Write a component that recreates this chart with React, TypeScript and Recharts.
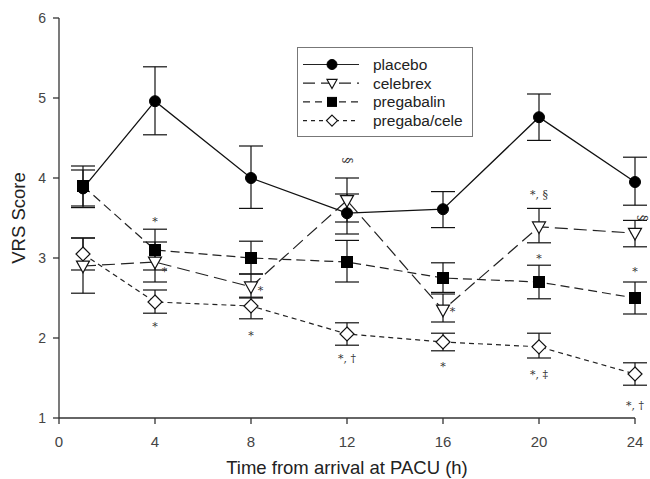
import { ComposedChart, Line, XAxis, YAxis, ErrorBar, ReferenceDot, Label } from 'recharts'

const hours = [1, 4, 8, 12, 16, 20, 24]

const placebo = [3.87, 4.96, 4.0, 3.56, 3.61, 4.76, 3.95]
const placeboLo = [3.63, 4.54, 3.62, 3.3, 3.38, 4.47, 3.66]
const placeboHi = [4.15, 5.39, 4.4, 3.8, 3.83, 5.05, 4.26]

const celebrex = [2.9, 2.95, 2.64, 3.72, 2.35, 3.39, 3.31]
const celebrexLo = [2.56, 2.7, 2.5, 3.45, 2.2, 3.19, 3.14]
const celebrexHi = [3.25, 3.2, 2.8, 4.0, 2.55, 3.62, 3.47]

const pregabalin = [3.9, 3.1, 3.0, 2.95, 2.75, 2.7, 2.5]
const pregabalinLo = [3.65, 2.85, 2.8, 2.7, 2.57, 2.49, 2.3]
const pregabalinHi = [4.1, 3.36, 3.21, 3.22, 2.94, 2.91, 2.7]

const combo = [3.05, 2.45, 2.4, 2.05, 1.95, 1.89, 1.55]
const comboLo = [2.85, 2.31, 2.24, 1.91, 1.84, 1.75, 1.41]
const comboHi = [3.25, 2.6, 2.51, 2.19, 2.06, 2.06, 1.69]

const xTicks = [0, 4, 8, 12, 16, 20, 24]
const yTicks = [1, 2, 3, 4, 5, 6]

// significance marks placed in data units
const noteX = [4, 4.4, 4, 8.4, 8, 12, 12, 16.4, 16, 20, 20, 20, 24.3, 24, 24]
const noteY = [3.46, 2.83, 2.14, 2.6, 2.03, 4.22, 1.75, 2.33, 1.65, 3.79, 3.0, 1.54, 3.5, 2.83, 1.16]
const noteText = ['*', '*', '*', '*', '*', '§', '*, †', '*', '*', '*, §', '*', '*, ‡', '§', '*', '*, †']

const FONT = '"Liberation Sans", Arial, Helvetica, sans-serif'

const rows = hours.map((h, i) => ({
  hour: h,
  placebo: placebo[i],
  placeboErr: [placebo[i] - placeboLo[i], placeboHi[i] - placebo[i]],
  celebrex: celebrex[i],
  celebrexErr: [celebrex[i] - celebrexLo[i], celebrexHi[i] - celebrex[i]],
  pregabalin: pregabalin[i],
  pregabalinErr: [pregabalin[i] - pregabalinLo[i], pregabalinHi[i] - pregabalin[i]],
  combo: combo[i],
  comboErr: [combo[i] - comboLo[i], comboHi[i] - combo[i]],
}))

type Kind = 'circle' | 'triangle' | 'square' | 'diamond'

function marker(kind: Kind, cx: number, cy: number, s: number, key?: string | number) {
  if (kind === 'circle') return <circle key={key} cx={cx} cy={cy} r={s} fill="#000" stroke="#000" />
  if (kind === 'square')
    return <rect key={key} x={cx - s} y={cy - s} width={2 * s} height={2 * s} fill="#000" stroke="#000" />
  if (kind === 'triangle')
    return (
      <polygon
        key={key}
        points={`${cx - s},${cy - s * 0.75} ${cx + s},${cy - s * 0.75} ${cx},${cy + s * 1.05}`}
        fill="#fff"
        stroke="#111"
        strokeWidth={1.2}
      />
    )
  return (
    <polygon
      key={key}
      points={`${cx},${cy - s} ${cx + s},${cy} ${cx},${cy + s} ${cx - s},${cy}`}
      fill="#fff"
      stroke="#111"
      strokeWidth={1.2}
    />
  )
}

const dotFor = (kind: Kind, s: number) => (p: any) => marker(kind, p.cx, p.cy, s, p.key ?? p.index)

const legendItems: { name: string; kind: Kind; dash?: string; size: number }[] = [
  { name: 'placebo', kind: 'circle', size: 5 },
  { name: 'celebrex', kind: 'triangle', dash: '12 6', size: 5 },
  { name: 'pregabalin', kind: 'square', dash: '7 5', size: 4.5 },
  { name: 'pregaba/cele', kind: 'diamond', dash: '4 4', size: 5.5 },
]

function LegendBox() {
  return (
    <div
      style={{
        position: 'absolute',
        left: 297,
        top: 47,
        width: 176,
        height: 90,
        border: '1px solid #777',
        boxSizing: 'border-box',
        background: '#fff',
      }}
    >
      <svg width={174} height={88}>
        {legendItems.map((it, i) => {
          const y = 16.5 + i * 18.7
          return (
            <g key={it.name}>
              <line x1={5} x2={61} y1={y} y2={y} stroke="#222" strokeWidth={1.2} strokeDasharray={it.dash} />
              {marker(it.kind, 34, y, it.size)}
              <text x={75} y={y} dominantBaseline="central" fontSize={15.5} fontFamily={FONT} fill="#222">
                {it.name}
              </text>
            </g>
          )
        })}
      </svg>
    </div>
  )
}

const errStyle = { stroke: '#111', strokeWidth: 1.2, width: 12 }

const noteLabel = (text: string) => (props: any) => {
  const vb = props.viewBox || {}
  const cx = vb.x + (vb.width || 0) / 2
  const cy = vb.y + (vb.height || 0) / 2
  const rotate = text === '§'
  return (
    <text
      x={cx}
      y={cy}
      textAnchor="middle"
      dominantBaseline="central"
      fontSize={rotate ? 13 : 11}
      fontFamily="DejaVu Serif, serif"
      fill="#333"
      transform={rotate ? `rotate(90 ${cx} ${cy})` : undefined}
    >
      {text}
    </text>
  )
}

export default function App() {
  return (
    <div style={{ position: 'absolute', left: 0, top: 0, width: 650, height: 479, background: '#fff' }}>
      <ComposedChart width={650} height={479} data={rows} margin={{ top: 18, right: 15, left: 0, bottom: 0 }}>
        <XAxis
          dataKey="hour"
          type="number"
          domain={[0, 24]}
          ticks={xTicks}
          height={61}
          tickSize={6}
          tickMargin={12}
          stroke="#333"
          strokeWidth={1.3}
          tick={{ fontSize: 15, fill: '#444', fontFamily: FONT }}
        >
          <Label
            value="Time from arrival at PACU (h)"
            position="insideBottom"
            offset={5}
            style={{ fontSize: 18.5, fill: '#222', fontFamily: FONT }}
          />
        </XAxis>
        <YAxis
          type="number"
          domain={[1, 6]}
          ticks={yTicks}
          width={59}
          tickSize={6}
          tickMargin={7}
          stroke="#333"
          strokeWidth={1.3}
          tick={{ fontSize: 14, fill: '#444', fontFamily: FONT }}
        >
          <Label
            content={({ viewBox }: any) => {
              const cy = viewBox.y + viewBox.height / 2
              return (
                <text
                  x={18}
                  y={cy}
                  transform={`rotate(-90 18 ${cy})`}
                  textAnchor="middle"
                  dominantBaseline="central"
                  fontSize={18.5}
                  fontFamily={FONT}
                  fill="#222"
                >
                  VRS Score
                </text>
              )
            }}
          />
        </YAxis>

        <Line
          dataKey="combo"
          stroke="#222"
          strokeWidth={1.2}
          strokeDasharray="5 4"
          dot={dotFor('diamond', 7)}
          activeDot={false}
          isAnimationActive={false}
        >
          <ErrorBar dataKey="comboErr" direction="y" {...errStyle} isAnimationActive={false} />
        </Line>
        <Line
          dataKey="pregabalin"
          stroke="#222"
          strokeWidth={1.2}
          strokeDasharray="9 5"
          dot={dotFor('square', 5.5)}
          activeDot={false}
          isAnimationActive={false}
        >
          <ErrorBar dataKey="pregabalinErr" direction="y" {...errStyle} isAnimationActive={false} />
        </Line>
        <Line
          dataKey="celebrex"
          stroke="#222"
          strokeWidth={1.2}
          strokeDasharray="13 6"
          dot={dotFor('triangle', 6.5)}
          activeDot={false}
          isAnimationActive={false}
        >
          <ErrorBar dataKey="celebrexErr" direction="y" {...errStyle} isAnimationActive={false} />
        </Line>
        <Line
          dataKey="placebo"
          stroke="#111"
          strokeWidth={1.3}
          dot={dotFor('circle', 5.5)}
          activeDot={false}
          isAnimationActive={false}
        >
          <ErrorBar dataKey="placeboErr" direction="y" {...errStyle} isAnimationActive={false} />
        </Line>

        {noteX.map((x, i) => (
          <ReferenceDot
            key={i}
            x={x}
            y={noteY[i]}
            r={0}
            fill="none"
            stroke="none"
            ifOverflow="visible"
            label={{ content: noteLabel(noteText[i]) } as any}
          />
        ))}
      </ComposedChart>
      <LegendBox />
    </div>
  )
}
